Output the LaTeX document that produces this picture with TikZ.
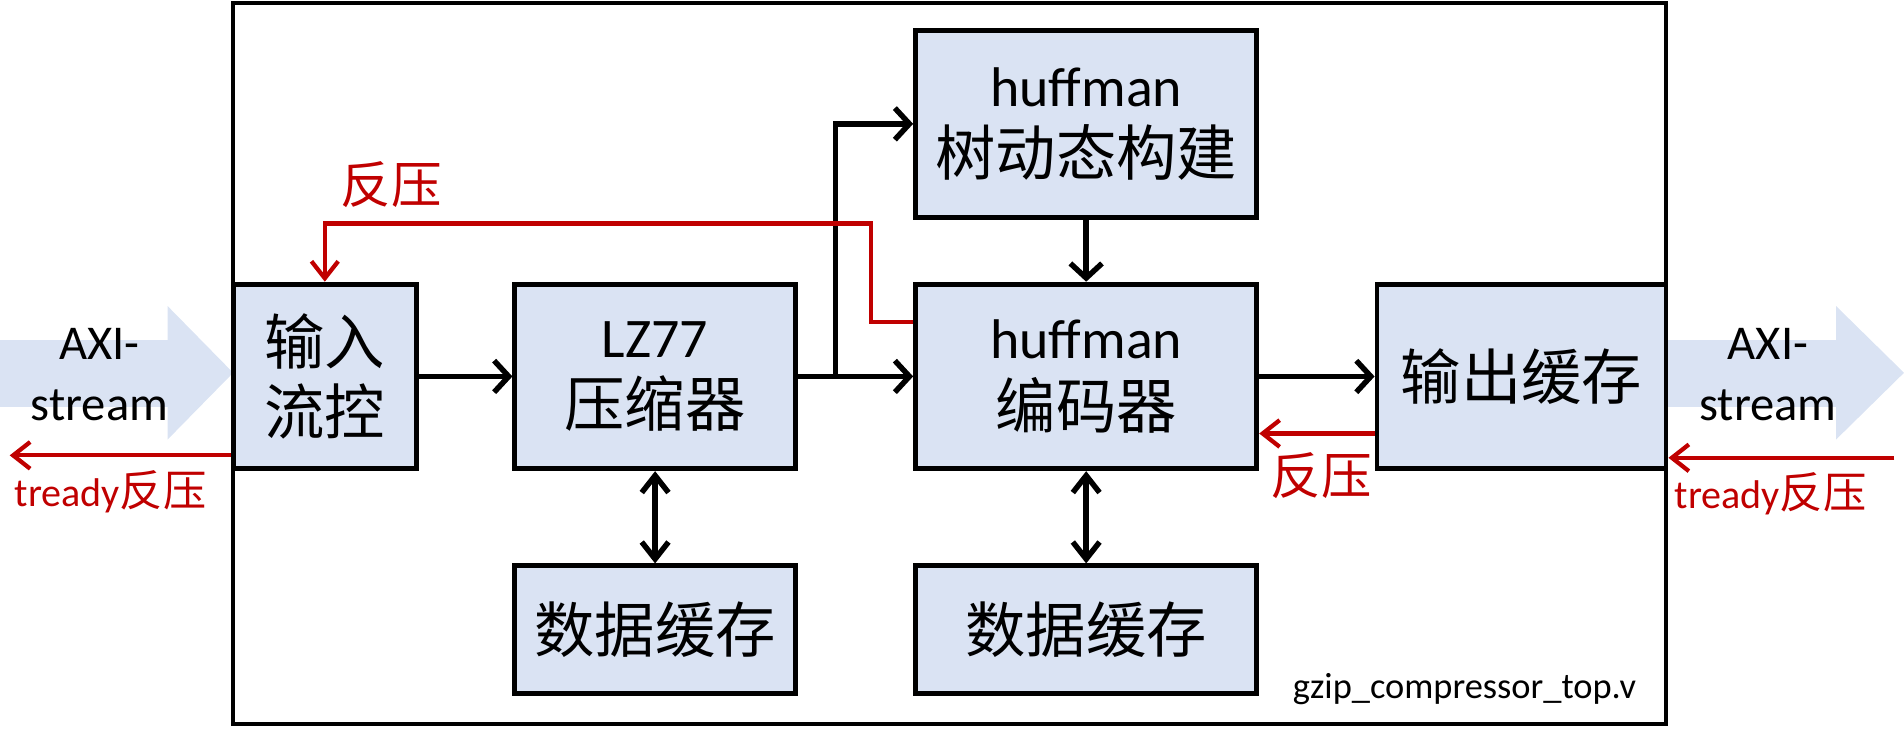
\documentclass[tikz,border=0pt]{standalone}
\usepackage{fontspec}
\setmainfont{Carlito}
\newfontfamily\cjk[Scale=1.08]{Noto Sans CJK SC}
\usetikzlibrary{arrows.meta}
\definecolor{boxfill}{HTML}{DAE3F3}
\definecolor{axifill}{HTML}{DAE3F3}
\definecolor{bpred}{HTML}{C00000}
\newcommand{\zh}[1]{{\cjk #1}}
\begin{document}
\begin{tikzpicture}[x=1pt,y=-1pt,
  blk/.style={draw=black, line width=4pt, fill=boxfill, align=center, inner sep=0pt,
    font=\fontsize{46}{57}\selectfont},
  arr/.style={draw=black, line width=4.5pt, -{Straight Barb[length=12pt,width=26pt]}},
  biarr/.style={draw=black, line width=4.5pt, {Straight Barb[length=14pt,width=22pt]}-{Straight Barb[length=14pt,width=22pt]}},
  rarr/.style={draw=bpred, line width=3.5pt, -{Straight Barb[length=14pt,width=22pt]}},
  axi/.style={fill=axifill, draw=none},
  axitxt/.style={font=\fontsize{40}{40}\selectfont, inner sep=0pt},
  rlbl/.style={text=bpred, font=\fontsize{38.5}{40}\selectfont, inner sep=0pt},
  tlbl/.style={text=bpred, font=\fontsize{33}{33}\selectfont, inner sep=0pt}
]
\useasboundingbox (0,0) rectangle (1568,600);
% AXI stream arrows
\fill[axi] (0,280) -- (138,280) -- (138,252) -- (192,307) -- (138,362) -- (138,335) -- (0,335) -- cycle;
\fill[axi] (1372,280) -- (1512,280) -- (1512,252) -- (1568,307) -- (1512,362) -- (1512,335) -- (1372,335) -- cycle;
\node[axitxt] (axil1) at (82,283) {AXI-};
\node[axitxt] (axil2) at (82,334) {stream};
\node[axitxt] (axir1) at (1456,283) {AXI-};
\node[axitxt] (axir2) at (1456,334) {stream};
% outer module box
\node[draw=black, line width=3.5pt, minimum width=1180pt, minimum height=594pt, inner sep=0pt] (top) at (782,299.5) {};
% blocks
\node[blk, minimum width=151pt, minimum height=152pt] (in) at (267.5,310) {\zh{输入}\\\zh{流控}};
\node[blk, minimum width=231pt, minimum height=152pt] (lz) at (539.5,310) {LZ77\\\zh{压缩器}};
\node[blk, minimum width=231pt, minimum height=105pt] (db1) at (539.5,518.5) {\zh{数据缓存}};
\node[blk, minimum width=281pt, minimum height=154pt] (tree) at (894.5,102) {huffman\\\zh{树动态构建}};
\node[blk, minimum width=281pt, minimum height=152pt] (enc) at (894.5,310) {huffman\\\zh{编码器}};
\node[blk, minimum width=281pt, minimum height=105pt] (db2) at (894.5,518.5) {\zh{数据缓存}};
\node[blk, minimum width=238pt, minimum height=152pt] (out) at (1253,310) {\zh{输出缓存}};
% black data path
\coordinate (br) at (688,310);
\draw[arr] (in.east) -- (lz.west);
\draw[arr] (lz.east) -- (enc.west);
\draw[arr] (br) |- (tree.west);
\draw[arr] (tree.south) -- (enc.north);
\draw[arr] (enc.east) -- (out.west);
\draw[biarr] (lz.south) -- (db1.north);
\draw[biarr] (enc.south) -- (db2.north);
% red backpressure
\coordinate (rp1) at (717,265);
\coordinate (rp2) at (717,184);
\coordinate (rp3) at (267.5,184);
\draw[rarr] (enc.west |- rp1) -- (rp1) -- (rp2) -- (rp3) -- (in.north);
\draw[rarr] ([yshift=-47pt]out.west) -- ([yshift=-47pt]enc.east);
\coordinate (tl) at (8,375);
\draw[rarr] (in.west |- tl) -- (tl);
\coordinate (tr) at (1560,377);
\draw[rarr] (tr) -- (out.east |- tr);
% labels
\node[rlbl] (bp1) at (322,152) {\zh{反压}};
\node[rlbl] (bp2) at (1088,392) {\zh{反压}};
\node[tlbl] (trl) at (91,405) {tready\zh{反压}};
\node[tlbl] (trr) at (1458,407) {tready\zh{反压}};
\node[font=\fontsize{30}{30}\selectfont, inner sep=0pt, anchor=base] (fname) at (1206,575) {gzip\_compressor\_top.v};
\end{tikzpicture}
\end{document}
